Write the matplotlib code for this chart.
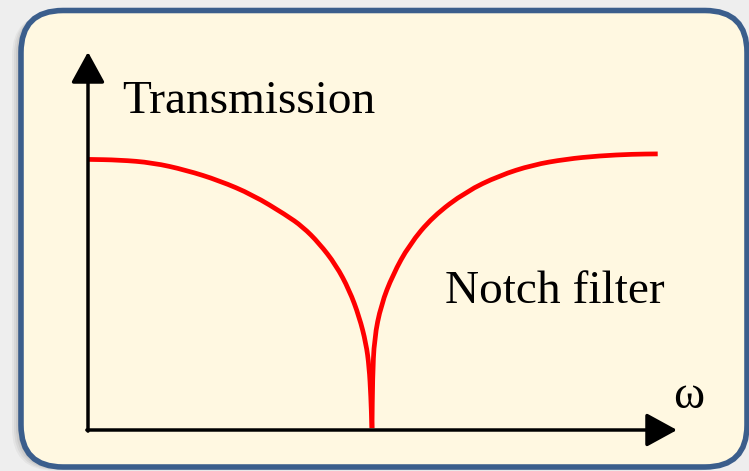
import matplotlib.pyplot as plt
from matplotlib.patches import FancyBboxPatch, PathPatch
from matplotlib.path import Path

# Кривая пропускания режекторного фильтра
# левая ветвь (до провала)
omega_left = [0.000, 0.110, 0.228, 0.345, 0.462, 0.580, 0.697, 0.756, 0.814, 0.873, 0.920,
              0.955, 0.979, 0.990, 0.996, 0.999, 1.000]
trans_left = [0.984, 0.982, 0.972, 0.945, 0.907, 0.855, 0.782, 0.739, 0.679, 0.600, 0.509,
              0.412, 0.315, 0.230, 0.121, 0.024, 0.007]
# правая ветвь (после провала)
omega_right = [1.000, 1.002, 1.008, 1.032, 1.073, 1.131, 1.214, 1.331, 1.448, 1.566, 1.683,
               1.800, 1.918, 2.006]
trans_right = [0.007, 0.188, 0.333, 0.455, 0.564, 0.673, 0.776, 0.867, 0.925, 0.964, 0.985,
               0.997, 1.003, 1.004]


def smooth_path(xs, ys):
    # сглаживание ломаной квадратичными кривыми Безье через середины отрезков
    pts = list(zip(xs, ys))
    verts = [pts[0], ((pts[0][0] + pts[1][0]) / 2, (pts[0][1] + pts[1][1]) / 2)]
    codes = [Path.MOVETO, Path.LINETO]
    for i in range(1, len(pts) - 1):
        mid = ((pts[i][0] + pts[i + 1][0]) / 2, (pts[i][1] + pts[i + 1][1]) / 2)
        verts += [pts[i], mid]
        codes += [Path.CURVE3, Path.CURVE3]
    verts.append(pts[-1])
    codes.append(Path.LINETO)
    return Path(verts, codes)


W, H = 749, 471
fig = plt.figure(figsize=(W / 100, H / 100), dpi=100)
fig.patch.set_facecolor("#eeeeee")

# Фон: скруглённая рамка с тенью
bg = fig.add_axes([0, 0, 1, 1])
bg.set_xlim(0, W)
bg.set_ylim(H, 0)
bg.axis("off")
for i, a in enumerate([0.04, 0.05, 0.06, 0.08]):
    d = 9 - i * 2
    bg.add_patch(FancyBboxPatch((21 + 42 - d, 10.5 + 42 + d * 0.4), 726 - 84, 456.5 - 84,
                                boxstyle="round,pad=42", fc="black", ec="none", alpha=a))
bg.add_patch(FancyBboxPatch((21 + 42, 10.5 + 42), 726 - 84, 456.5 - 84,
                            boxstyle="round,pad=42", fc="#fff8e1", ec="#3b5e8c", lw=4))

# Оси со стрелками
ax = fig.add_axes([88 / W, 1 - 430 / H, 589 / W, 378 / H])
ax.set_xlim(0, 589 / 284)
ax.set_ylim(0, 378 / 275)
ax.axis("off")
ax.patch.set_alpha(0)

arrow = dict(arrowstyle="-|>,head_length=0.95,head_width=0.52", mutation_scale=20,
             color="black", lw=2.5, shrinkA=0, shrinkB=0)
ax.annotate("", xy=(0, 378 / 275), xytext=(0, -0.004), arrowprops=arrow, annotation_clip=False)
ax.annotate("", xy=(589 / 284, 0), xytext=(-0.004, 0), arrowprops=arrow, annotation_clip=False)

for xs, ys in [(omega_left, trans_left), (omega_right, trans_right)]:
    ax.add_patch(PathPatch(smooth_path(xs, ys), fc="none", ec="red", lw=3.4,
                           joinstyle="round", capstyle="butt", clip_on=False))

font = dict(family="Liberation Serif", fontsize=34, color="black", va="baseline", ha="left")
ax.text(0.12, 1.154, "Transmission", **font)
ax.text(1.257, 0.463, "Notch filter", **font)
ax.text(2.06, 0.08, "ω", clip_on=False, **font)

plt.savefig("out.png", dpi=100, facecolor=fig.get_facecolor())
